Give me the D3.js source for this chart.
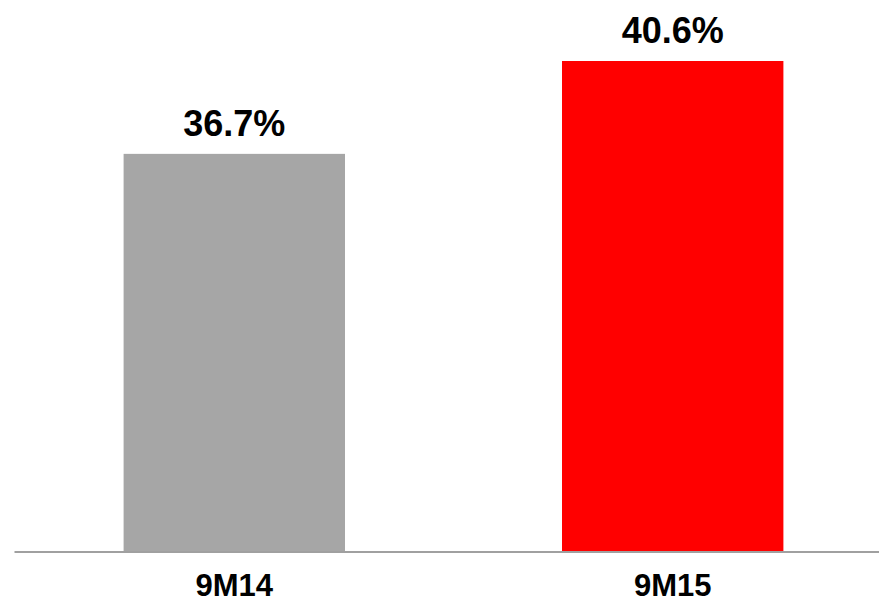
<!DOCTYPE html>
<html lang="en">
<head>
    <meta charset="UTF-8">
    <title>d3</title>
    <script src="https://cdn.jsdelivr.net/npm/d3@7"></script>
    <style>
        body { margin: 0; background: #fff; }
    </style>
</head>
<body>
    <script>
        var width = 879;
        var height = 601;
        var baseline = 551.5;

        var categories = ["9M14", "9M15"];
        var values = [36.7, 40.6];
        var colors = ["#a6a6a6", "#ff0000"];

        var svg = d3.select("body").append("svg")
            .attr("width", width).attr("height", height);

        // axis does not start at zero
        var xScale = d3.scaleBand().domain(categories)
            .range([14, 893]).paddingInner(0.495).paddingOuter(0.25);
        var yScale = d3.scaleLinear().domain([20, 40.6]).range([baseline, 61]);

        // bars
        svg.selectAll("rect")
            .data(values)
            .enter()
            .append("rect")
            .attr("x", function (d, i) { return xScale(categories[i]); })
            .attr("y", function (d) { return yScale(d); })
            .attr("width", xScale.bandwidth())
            .attr("height", function (d) { return baseline - yScale(d); })
            .attr("fill", function (d, i) { return colors[i]; });

        // value labels
        svg.selectAll(".val")
            .data(values)
            .enter()
            .append("text")
            .attr("class", "val")
            .attr("x", function (d, i) { return xScale(categories[i]) + xScale.bandwidth() / 2; })
            .attr("y", function (d) { return yScale(d) - 18; })
            .attr("text-anchor", "middle")
            .attr("font-family", "Liberation Sans, Arial, sans-serif")
            .attr("font-weight", "bold")
            .attr("font-size", 36)
            .attr("fill", "#000")
            .text(function (d) { return d.toFixed(1) + "%"; });

        // x axis
        var xAxis = d3.axisBottom(xScale).tickSize(0).tickPadding(22);
        var gx = svg.append("g")
            .attr("transform", "translate(0," + baseline + ")")
            .call(xAxis);
        gx.select(".domain").attr("stroke", "#a0a0a0").attr("stroke-width", 2);
        gx.selectAll("text")
            .attr("font-family", "Liberation Sans, Arial, sans-serif")
            .attr("font-weight", "bold")
            .attr("font-size", 31)
            .attr("fill", "#000");
    </script>
</body>
</html>
